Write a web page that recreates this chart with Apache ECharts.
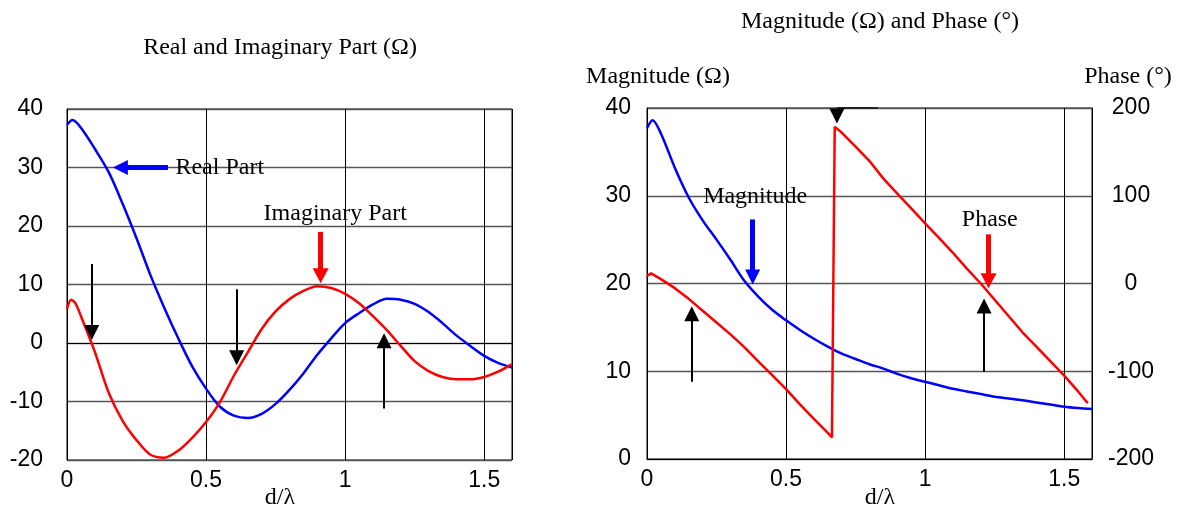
<!DOCTYPE html>
<html>
<head>
<meta charset="utf-8">
<script src="https://cdn.jsdelivr.net/npm/echarts/dist/echarts.min.js"></script>
<style>
html, body { margin: 0; padding: 0; background: #fff; }
#main { width: 1182px; height: 510px; }
</style>
</head>
<body>
<div id="main"></div>
<script>
// left panel: real / imaginary part vs d/lambda
var xReal = [0, 0.02, 0.05, 0.1, 0.15, 0.2, 0.25, 0.3, 0.35, 0.4, 0.45, 0.5, 0.55, 0.6, 0.65, 0.7, 0.75, 0.8, 0.85, 0.9, 0.95, 1.0, 1.05, 1.1, 1.15, 1.2, 1.25, 1.3, 1.35, 1.4, 1.45, 1.5, 1.55, 1.6];
var realPart = [37.3, 38.1, 36.8, 33.2, 29.2, 23.8, 17.9, 11.6, 6.0, 0.8, -4.0, -7.8, -10.9, -12.4, -12.8, -12.1, -10.4, -8.0, -5.2, -2.0, 0.8, 3.4, 5.1, 6.6, 7.55, 7.4, 6.7, 5.3, 3.4, 1.3, -0.5, -2.2, -3.4, -4.2];
var xImag = [0, 0.015, 0.03, 0.05, 0.1, 0.15, 0.2, 0.25, 0.3, 0.35, 0.4, 0.45, 0.5, 0.55, 0.6, 0.65, 0.7, 0.75, 0.8, 0.85, 0.9, 0.95, 1.0, 1.05, 1.1, 1.15, 1.2, 1.25, 1.3, 1.35, 1.4, 1.45, 1.5, 1.55, 1.6];
var imagPart = [5.8, 7.4, 6.8, 4.6, -1.5, -8.5, -13.3, -16.6, -19.1, -19.6, -18.4, -16.2, -13.5, -10.1, -5.6, -1.6, 2.4, 5.4, 7.5, 8.9, 9.7, 9.4, 8.4, 6.8, 4.6, 2.2, -0.5, -3.1, -4.8, -5.8, -6.2, -6.2, -5.8, -4.9, -3.6];

// right panel: magnitude and phase
var xMag = [0, 0.02, 0.05, 0.1, 0.15, 0.2, 0.25, 0.3, 0.35, 0.4, 0.45, 0.5, 0.55, 0.6, 0.65, 0.7, 0.75, 0.8, 0.85, 0.9, 0.95, 1.0, 1.05, 1.1, 1.15, 1.2, 1.25, 1.3, 1.35, 1.4, 1.45, 1.5, 1.55, 1.6];
var magnitude = [37.7, 38.6, 37.1, 33.2, 29.8, 27.2, 25.0, 22.7, 20.3, 18.5, 17.0, 15.8, 14.7, 13.7, 12.8, 12.0, 11.4, 10.8, 10.3, 9.7, 9.2, 8.8, 8.4, 8.0, 7.7, 7.4, 7.1, 6.9, 6.7, 6.45, 6.2, 5.95, 5.8, 5.7];
var xPhase = [0, 0.015, 0.05, 0.1, 0.15, 0.2, 0.25, 0.3, 0.35, 0.4, 0.45, 0.5, 0.55, 0.6, 0.65, 0.665, 0.675, 0.7, 0.75, 0.8, 0.85, 0.9, 0.95, 1.0, 1.05, 1.1, 1.15, 1.2, 1.25, 1.3, 1.35, 1.4, 1.45, 1.5, 1.55, 1.585];
var phase = [8.5, 11.5, 5, -5.3, -17.5, -31, -44.5, -58, -72.5, -88.7, -104.4, -120.4, -137.7, -154.2, -170.3, -175.5, 178.5, 172, 156, 139.5, 119.5, 102.5, 85.5, 68.6, 52, 35, 17, 0, -18.5, -37, -55.6, -72, -88.5, -105, -123, -136.5];

// annotation arrows [x1, y1, x2, y2]; x2,y2 is the centre of the arrow head
var leftBlackArrows = [[0.089, 13.5, 0.089, 1.8], [0.61, 9.2, 0.61, -2.5], [1.14, -11.2, 1.14, 0.4]];
var realArrow = [0.363, 30, 0.192, 30];
var imagArrow = [0.912, 19.0, 0.912, 11.5];
var rightBlackArrows = [[0.161, 8.8, 0.161, 16.55], [1.212, 9.95, 1.212, 17.45]];
var magArrow = [0.38, 27.3, 0.38, 20.75];
var phaseArrow = [1.228, 25.6, 1.228, 20.3];
var topMarkLine = [0.683, 40, 0.83, 40];
var topMarkPoint = [0.683, 39.1];

var SANS = '"Liberation Sans", Arial, sans-serif';
var SERIF = '"Liberation Serif", "Times New Roman", serif';

function pairs(xs, ys) {
    var out = [];
    for (var i = 0; i < xs.length; i++) out.push([xs[i], ys[i]]);
    return out;
}

function arrow(a, color, width, head) {
    return [
        { coord: [a[0], a[1]], symbol: 'none', lineStyle: { color: color, width: width, type: 'solid' } },
        { coord: [a[2], a[3]], symbol: 'triangle', symbolSize: head }
    ];
}

function note(x, y, text) {
    return {
        coord: [x, y], symbol: 'circle', symbolSize: 1,
        itemStyle: { color: 'rgba(0,0,0,0)' },
        label: { show: true, position: 'right', distance: 0, formatter: text,
                 color: '#000', fontFamily: SERIF, fontSize: 24 }
    };
}

function xAxisCfg(gridIndex) {
    return {
        type: 'value', gridIndex: gridIndex, min: 0, max: 1.6, interval: 0.5,
        axisLine: { lineStyle: { color: '#000', width: 1 } },
        axisTick: { show: false },
        axisLabel: {
            color: '#000', fontFamily: SANS, fontSize: 23, margin: 9,
            formatter: function (v) {
                return Math.abs(v * 2 - Math.round(v * 2)) < 1e-9 ? String(v) : '';
            }
        },
        splitLine: { show: true, lineStyle: { color: '#000', width: 1 } }
    };
}

function yAxisCfg(gridIndex, min, max, interval, pos, margin, align, padTop, split) {
    return {
        type: 'value', gridIndex: gridIndex, min: min, max: max, interval: interval,
        position: pos,
        axisLine: { show: true, lineStyle: { color: '#000', width: 1 } },
        axisTick: { show: false },
        axisLabel: { color: '#000', fontFamily: SANS, fontSize: 23, margin: margin, align: align,
                     padding: [padTop, 0, 0, 0] },
        splitLine: { show: split, lineStyle: { color: '#555', width: 1.3 } }
    };
}

function textEl(x, y, text) {
    return {
        type: 'text', x: x, y: y, silent: true,
        style: { text: text, fill: '#000', font: '24px ' + SERIF,
                 align: 'center', verticalAlign: 'middle', textAlign: 'center', textVerticalAlign: 'middle' }
    };
}

var chart = echarts.init(document.getElementById('main'), null, { renderer: 'canvas' });

var option = {
    animation: false,
    backgroundColor: '#fff',
    grid: [
        { left: 67, top: 109, width: 445, height: 351, show: true, borderColor: '#000', borderWidth: 1 },
        { left: 647, top: 108, width: 445, height: 351, show: true, borderColor: '#000', borderWidth: 1 }
    ],
    xAxis: [xAxisCfg(0), xAxisCfg(1)],
    yAxis: [
        yAxisCfg(0, -20, 40, 10, 'left', 24, 'right', 10, true),
        yAxisCfg(1, 0, 40, 10, 'left', 16, 'right', 8, true),
        yAxisCfg(1, -200, 200, 100, 'right', 39, 'center', 6, false)
    ],
    graphic: [
        textEl(280, 48, 'Real and Imaginary Part (Ω)'),
        textEl(880, 22, 'Magnitude (Ω) and Phase (°)'),
        textEl(658, 77, 'Magnitude (Ω)'),
        textEl(1128, 77, 'Phase (°)'),
        textEl(280, 498, 'd/λ'),
        textEl(880, 498, 'd/λ')
    ],
    series: [
        {
            name: 'Real Part', type: 'line', xAxisIndex: 0, yAxisIndex: 0,
            data: pairs(xReal, realPart), smooth: 0.3, showSymbol: false,
            lineStyle: { color: '#0000ff', width: 2.5 }, itemStyle: { color: '#0000ff' },
            markLine: {
                silent: true, label: { show: false },
                data: [arrow(realArrow, '#0000ff', 5, [15, 15])]
                    .concat(leftBlackArrows.map(function (a) { return arrow(a, '#000', 2, [15, 15]); }))
            },
            markPoint: { silent: true, data: [note(0.388, 30, 'Real Part'), note(0.705, 22.05, 'Imaginary Part')] }
        },
        {
            name: 'Imaginary Part', type: 'line', xAxisIndex: 0, yAxisIndex: 0,
            data: pairs(xImag, imagPart), smooth: 0.3, showSymbol: false,
            lineStyle: { color: '#ff0000', width: 2.5 }, itemStyle: { color: '#ff0000' },
            markLine: {
                silent: true, label: { show: false },
                data: [arrow(imagArrow, '#ff0000', 5, [16, 15])]
            }
        },
        {
            name: 'Magnitude', type: 'line', xAxisIndex: 1, yAxisIndex: 1,
            data: pairs(xMag, magnitude), smooth: 0.3, showSymbol: false,
            lineStyle: { color: '#0000ff', width: 2.5 }, itemStyle: { color: '#0000ff' },
            markLine: {
                silent: true, label: { show: false },
                data: [arrow(magArrow, '#0000ff', 5, [15, 15]), arrow(phaseArrow, '#ff0000', 5, [16, 15]),
                       [{ coord: [topMarkLine[0], topMarkLine[1]], symbol: 'none', lineStyle: { color: '#222', width: 2, type: 'solid' } },
                        { coord: [topMarkLine[2], topMarkLine[3]], symbol: 'none' }]]
                    .concat(rightBlackArrows.map(function (a) { return arrow(a, '#000', 2, [15, 15]); }))
            },
            markPoint: {
                silent: true,
                data: [note(0.2, 29.9, 'Magnitude'), note(1.13, 27.3, 'Phase'),
                       { coord: topMarkPoint, symbol: 'triangle', symbolRotate: 180, symbolSize: [15, 15],
                         itemStyle: { color: '#000' }, label: { show: false } }]
            }
        },
        {
            name: 'Phase', type: 'line', xAxisIndex: 1, yAxisIndex: 2,
            data: pairs(xPhase, phase), showSymbol: false,
            lineStyle: { color: '#ff0000', width: 2.5 }, itemStyle: { color: '#ff0000' }
        }
    ]
};

chart.setOption(option);
</script>
</body>
</html>
